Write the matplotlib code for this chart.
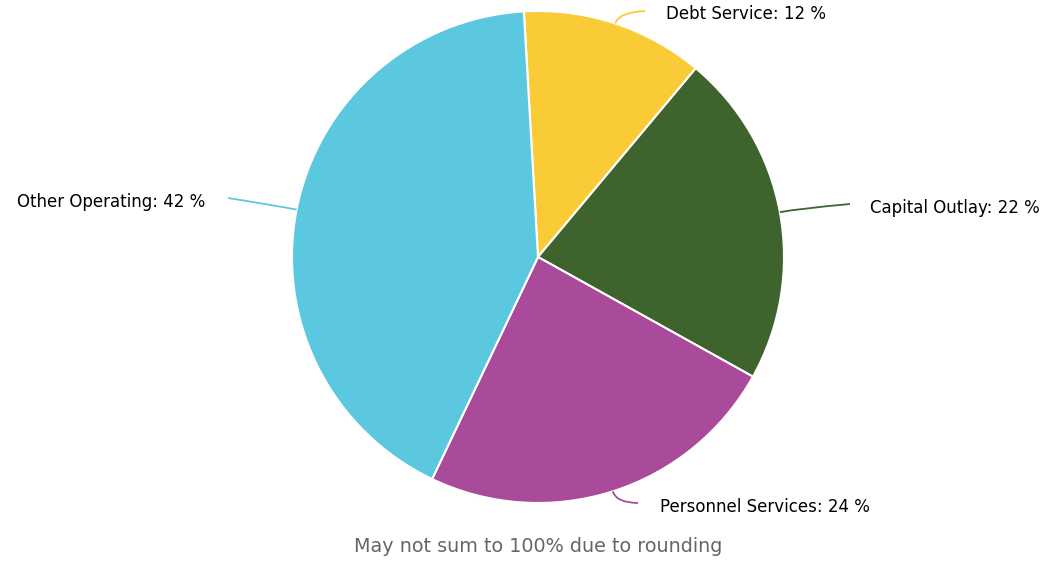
import numpy as np
import matplotlib
matplotlib.use("Agg")
import matplotlib.pyplot as plt
from matplotlib.path import Path
from matplotlib.patches import PathPatch

# budget shares, clockwise from the top
categories = ["Debt Service", "Capital Outlay", "Personnel Services", "Other Operating"]
shares = [12, 22, 24, 42]
colors = ["#F9CB37", "#3F632D", "#AA4A9A", "#5BC8DF"]

W, H = 1052, 563
cx, cy, R = 538, H - 257, 246
start = 93.3  # degrees, counter-clockwise from +x

fig = plt.figure(figsize=(W / 100, H / 100), dpi=100)
ax = fig.add_axes([0, 0, 1, 1])
wedges, _ = ax.pie(shares, colors=colors, startangle=start, counterclock=False,
                   center=(cx, cy), radius=R, frame=True,
                   wedgeprops=dict(edgecolor="white", linewidth=1.5))
ax.set_xlim(0, W)
ax.set_ylim(0, H)
ax.set_aspect("equal")
ax.axis("off")

# connector end points and label side (pixel coords, y measured from top)
conn_end = [(645, 11), (850, 204), (638, 503), (228, 198)]
label_pos = [(666, 14), (870, 208), (660, 507), (205, 202)]
ha = ["left", "left", "left", "right"]
ctrl_ext = [12, 20, 12, 20]

for w, name, val, col, end, lp, h, ext in zip(wedges, categories, shares, colors,
                                             conn_end, label_pos, ha, ctrl_ext):
    mid = np.deg2rad((w.theta1 + w.theta2) / 2)
    p0 = (cx + R * np.cos(mid), cy + R * np.sin(mid))
    p1 = (cx + (R + ext) * np.cos(mid), cy + (R + ext) * np.sin(mid))
    p2 = (end[0], H - end[1])
    path = Path([p0, p1, p2], [Path.MOVETO, Path.CURVE3, Path.CURVE3])
    ax.add_patch(PathPatch(path, facecolor="none", edgecolor=col, lw=1.3))
    ax.text(lp[0], H - lp[1], f"{name}: {val} %", ha=h, va="center",
            fontsize=12, color="#000000", family="DejaVu Sans")

fig.text(cx / W, 1 - 547 / H, "May not sum to 100% due to rounding",
         ha="center", va="center", fontsize=13.8, color="#666666")

fig.savefig("out.png", dpi=100)
